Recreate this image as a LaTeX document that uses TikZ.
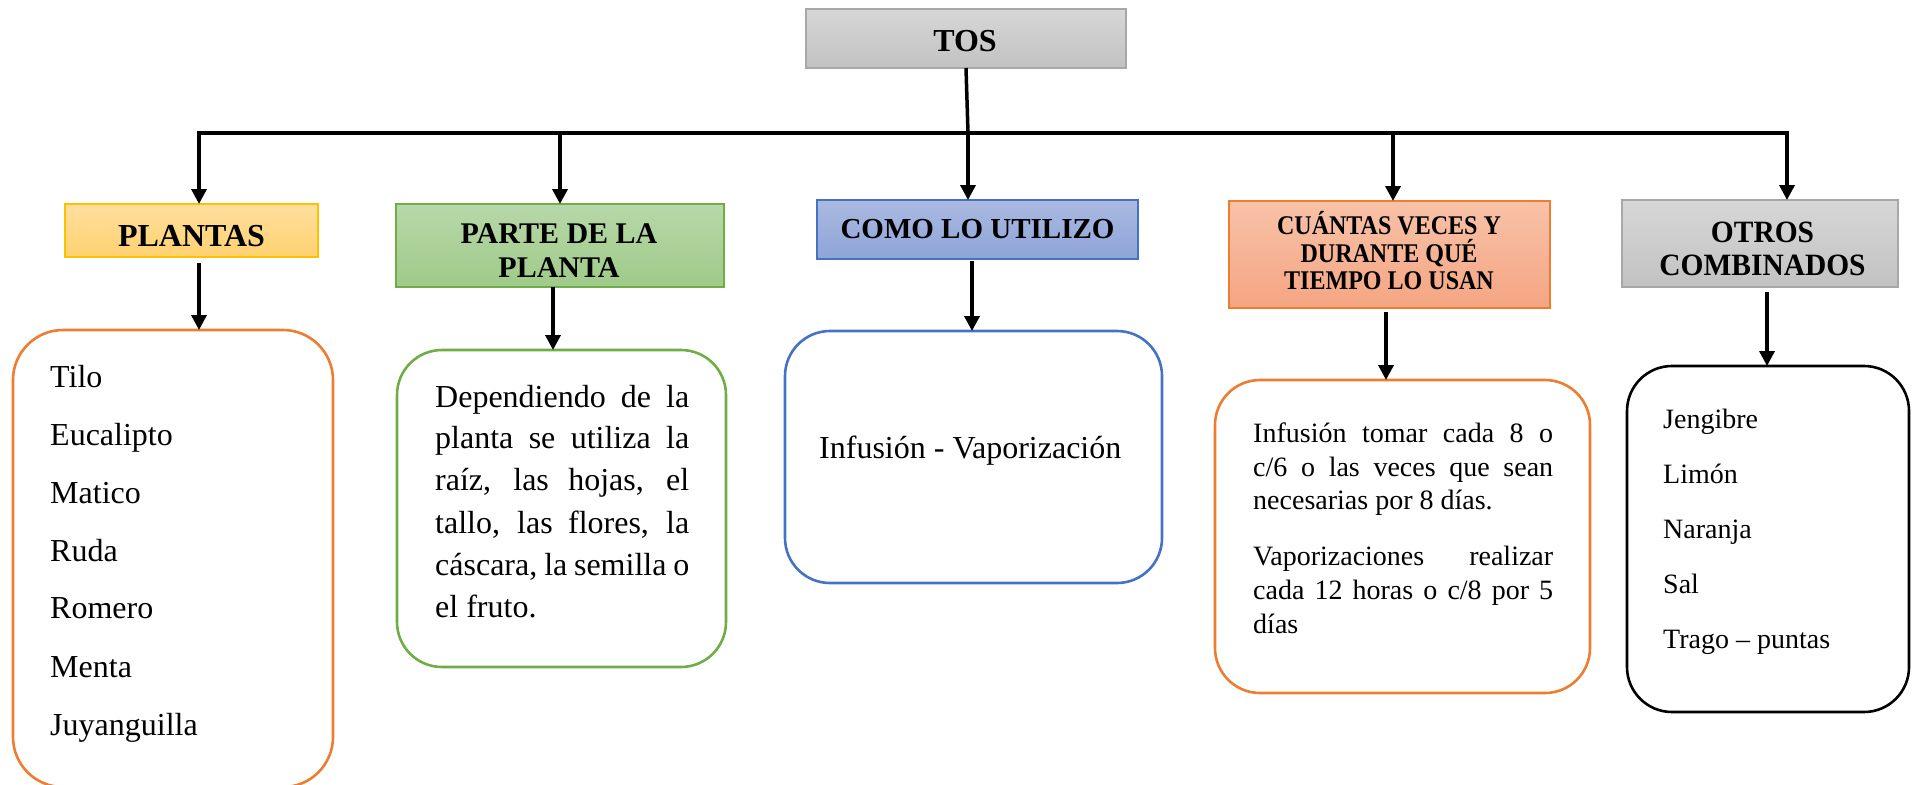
\documentclass[tikz,border=0pt]{standalone}
\usepackage{fontspec}
\setmainfont{Liberation Serif}
\newfontfamily\condA[FakeStretch=0.89]{Liberation Serif}
\newfontfamily\condB[FakeStretch=0.95]{Liberation Serif}
\usetikzlibrary{arrows.meta}
\definecolor{grayT}{HTML}{D7D7D7}
\definecolor{grayB}{HTML}{C2C2C2}
\definecolor{grayD}{HTML}{A8A8A8}
\definecolor{goldT}{HTML}{FFDF9F}
\definecolor{goldB}{HTML}{FFD270}
\definecolor{goldD}{HTML}{FFC000}
\definecolor{grnT}{HTML}{B7D8A9}
\definecolor{grnB}{HTML}{9FCA88}
\definecolor{grnD}{HTML}{70AD47}
\definecolor{bluT}{HTML}{AAB9E1}
\definecolor{bluB}{HTML}{8EA5D7}
\definecolor{bluD}{HTML}{4472C4}
\definecolor{orT}{HTML}{F8C2A8}
\definecolor{orB}{HTML}{F4A582}
\definecolor{orD}{HTML}{ED7D31}
\newcommand\JL[2]{\makebox[#1][s]{#2}}
\begin{document}
\begin{tikzpicture}[x=1pt,y=-1pt,
  hdr/.style={draw, line width=1.3pt, inner sep=0pt, outer sep=0pt},
  rbox/.style={draw, line width=2.6pt, fill=white, inner sep=0pt, outer sep=0pt, rounded corners=45pt},
  htext/.style={anchor=base, inner sep=0pt, font=\fontsize{30}{34}\selectfont\bfseries},
  btext/.style={anchor=base west, inner sep=0pt, font=\fontsize{32}{38}\selectfont},
  stext/.style={anchor=base west, inner sep=0pt, font=\fontsize{28}{34}\selectfont},
  link/.style={line width=3.5pt},
  arr/.style={line width=3.5pt, -{Triangle[width=15pt,length=15pt]}}]
\fill[white] (0,0) rectangle (1913,784);
\useasboundingbox (0,0) rectangle (1913,784);

% header boxes
\node[hdr, draw=grayD, top color=grayT, bottom color=grayB, minimum width=320pt, minimum height=59pt] (tos) at (966,38.5) {};
\node[hdr, draw=goldD, top color=goldT, bottom color=goldB, minimum width=253pt, minimum height=53pt] (plantas) at (191.5,230.5) {};
\node[hdr, draw=grnD, top color=grnT, bottom color=grnB, minimum width=328pt, minimum height=83pt] (parte) at (560,245.5) {};
\node[hdr, draw=bluD, top color=bluT, bottom color=bluB, minimum width=321pt, minimum height=59pt] (como) at (977.5,229.5) {};
\node[hdr, draw=orD, top color=orT, bottom color=orB, minimum width=321pt, minimum height=107pt] (cuantas) at (1389.5,254.5) {};
\node[hdr, draw=grayD, top color=grayT, bottom color=grayB, minimum width=276pt, minimum height=87pt] (otros) at (1760,243.5) {};

% header texts
\node[htext, font=\fontsize{32}{34}\selectfont\bfseries] (tosT) at (965,52) {TOS};
\node[htext, font=\fontsize{32}{34}\selectfont\bfseries] (plantasT) at (191.5,246) {PLANTAS};
\node[htext] (parteT1) at (559,243) {PARTE DE LA};
\node[htext] (parteT2) at (559,277) {PLANTA};
\node[htext, font=\fontsize{29}{34}\selectfont\bfseries] (comoT) at (977.5,238) {COMO LO UTILIZO};
\node[htext, font=\condA\fontsize{27}{30}\selectfont\bfseries] (cuantasT1) at (1389,234) {CUÁNTAS VECES Y};
\node[htext, font=\condA\fontsize{27}{30}\selectfont\bfseries] (cuantasT2) at (1389,262) {DURANTE QUÉ};
\node[htext, font=\condA\fontsize{27}{30}\selectfont\bfseries] (cuantasT3) at (1389,289) {TIEMPO LO USAN};
\node[htext, font=\condB\fontsize{31}{34}\selectfont\bfseries] (otrosT1) at (1762.5,242) {OTROS};
\node[htext, font=\condB\fontsize{31}{34}\selectfont\bfseries] (otrosT2) at (1762.5,275) {COMBINADOS};

% rounded boxes
\node[rbox, draw=orD, rounded corners=50pt, minimum width=320pt, minimum height=457pt] (plantasL) at (173,558.5) {};
\node[rbox, draw=grnD, minimum width=329pt, minimum height=317pt] (parteL) at (561.5,508.5) {};
\node[rbox, draw=bluD, minimum width=377pt, minimum height=252pt] (comoL) at (973.5,457) {};
\node[rbox, draw=orD, minimum width=375pt, minimum height=313pt] (cuantasL) at (1402.5,536.5) {};
\node[rbox, draw=black, minimum width=282pt, minimum height=346pt] (otrosL) at (1768,539) {};

% plantas list
\foreach \t/\y [count=\i] in {Tilo/387, Eucalipto/445, Matico/503, Ruda/561, Romero/618, Menta/677, Juyanguilla/735}
  \node[btext] (pl\i) at (50,\y) {\t};

% parte text
\node[btext] (pa1) at (435,407) {\JL{254pt}{Dependiendo de la}};
\node[btext] (pa2) at (435,448) {\JL{254pt}{planta se utiliza la}};
\node[btext] (pa3) at (435,490) {\JL{254pt}{raíz, las hojas, el}};
\node[btext] (pa4) at (435,533) {\JL{254pt}{tallo, las flores, la}};
\node[btext] (pa5) at (435,575) {\JL{254pt}{cáscara, la semilla o}};
\node[btext] (pa6) at (435,617) {el fruto.};

% como text
\node[btext] (co1) at (819,458) {Infusión - Vaporización};

% cuantas text
\node[stext] (cu1) at (1253,442) {\JL{300pt}{Infusión tomar cada 8 o}};
\node[stext] (cu2) at (1253,476) {\JL{300pt}{c/6 o las veces que sean}};
\node[stext] (cu3) at (1253,509) {necesarias por 8 días.};
\node[stext] (cu4) at (1253,565) {\JL{300pt}{Vaporizaciones realizar}};
\node[stext] (cu5) at (1253,599) {\JL{300pt}{cada 12 horas o c/8 por 5}};
\node[stext] (cu6) at (1253,633) {días};

% otros list
\foreach \t/\y [count=\i] in {Jengibre/428, Limón/483, Naranja/538, Sal/593, Trago – puntas/648}
  \node[stext] (ot\i) at (1663,\y) {\t};

% connectors
\coordinate (hub) at (968,133);
\coordinate (j1) at (199,133);
\coordinate (j2) at (560,133);
\coordinate (j3) at (968,133);
\coordinate (j4) at (1393,133);
\coordinate (j5) at (1787,133);
\draw[link] (tos.south) -- (hub);
\draw[link, line cap=rect] (j1) -- (j5);
\draw[arr] (j1) -- (j1 |- plantas.north);
\draw[arr] (j2) -- (j2 |- parte.north);
\draw[arr] (j3) -- (j3 |- como.north);
\draw[arr] (j4) -- (j4 |- cuantas.north);
\draw[arr] (j5) -- (j5 |- otros.north);

\coordinate (k1) at (199,0);
\coordinate (k2) at (553,0);
\coordinate (k3) at (972,0);
\coordinate (k4) at (1386,0);
\coordinate (k5) at (1767,0);
\draw[arr, shorten <=6pt] (k1 |- plantas.south) -- (k1 |- plantasL.north);
\draw[arr] (k2 |- parte.south) -- (k2 |- parteL.north);
\draw[arr, shorten <=2pt] (k3 |- como.south) -- (k3 |- comoL.north);
\draw[arr, shorten <=4pt] (k4 |- cuantas.south) -- (k4 |- cuantasL.north);
\draw[arr, shorten <=5pt] (k5 |- otros.south) -- (k5 |- otrosL.north);
\end{tikzpicture}
\end{document}
